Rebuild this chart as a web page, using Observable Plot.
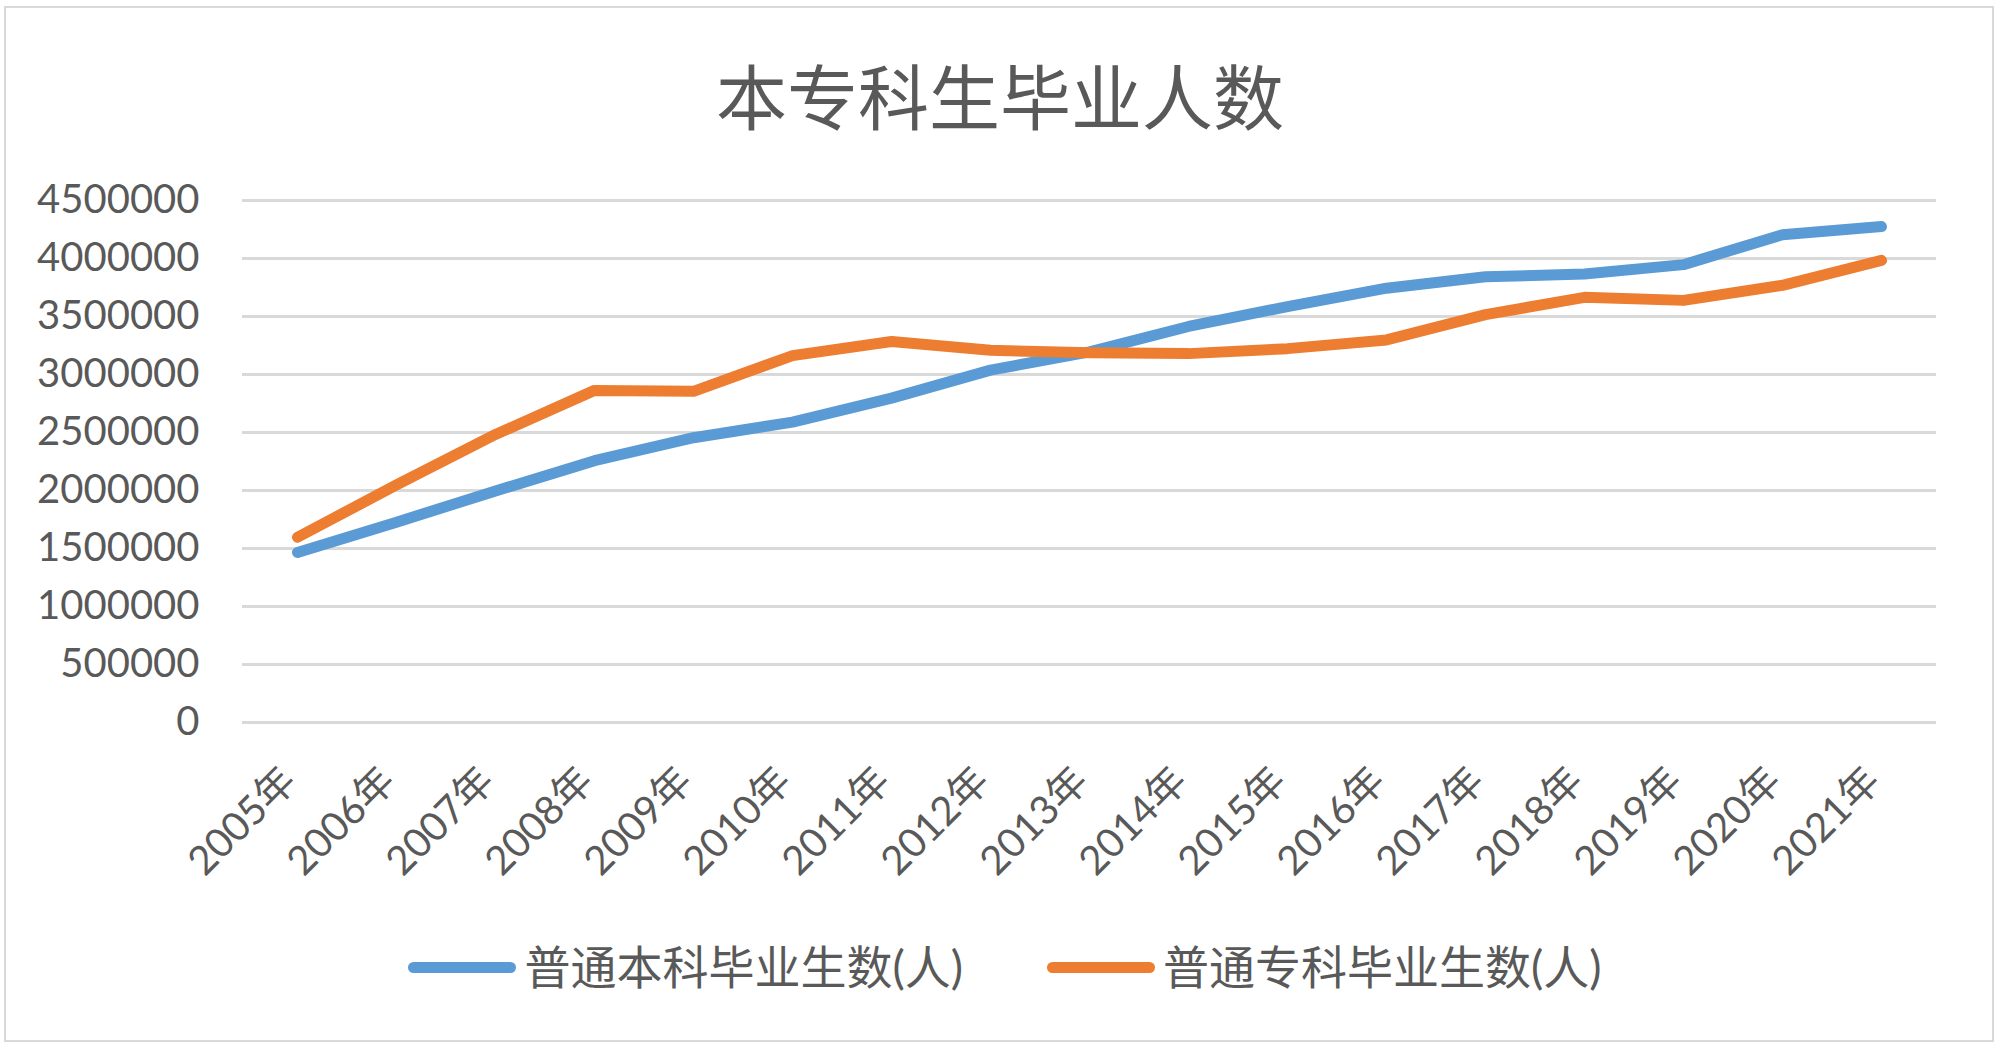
<!DOCTYPE html>
<html><head><meta charset="utf-8">
<script src="https://cdn.jsdelivr.net/npm/d3@7"></script>
<script src="https://cdn.jsdelivr.net/npm/@observablehq/plot@0.6"></script>
<style>
body{margin:0;background:#fff;}
#wrap{position:relative;width:2000px;height:1047px;overflow:hidden;font-family:Lato,"Noto Sans CJK SC",sans-serif;color:#595959;background:#fff;}
#frame{position:absolute;left:4px;top:6px;width:1990px;height:1036px;border:2px solid #d9d9d9;box-sizing:border-box;}
#title{position:absolute;left:0;top:50px;width:2000px;text-align:center;font-size:71px;line-height:86px;font-family:"Noto Sans CJK SC",sans-serif;color:#595959;}
#chart{position:absolute;left:0;top:160px;}
#legend{position:absolute;left:0;top:940px;width:2010px;display:flex;justify-content:center;align-items:center;gap:84px;font-size:46px;line-height:54px;}
.item{display:flex;align-items:center;}
.sw{width:108px;height:11px;border-radius:6px;margin-right:8px;}
</style></head>
<body>
<div id="wrap">
  <div id="frame"></div>
  <div id="title"></div>
  <div id="chart"></div>
  <div id="legend"></div>
</div>
<script>
const titleText = "本专科生毕业人数";
const years = ["2005年","2006年","2007年","2008年","2009年","2010年","2011年","2012年","2013年","2014年","2015年","2016年","2017年","2018年","2019年","2020年","2021年"];
const undergrad = [1466000,1727000,1996000,2257000,2455000,2590000,2796000,3038000,3195000,3414000,3586000,3744000,3842000,3867000,3947000,4205000,4275000];
const junior = [1597000,2048000,2483000,2863000,2855000,3163000,3285000,3209000,3187000,3180000,3223000,3298000,3516000,3665000,3639000,3769000,3984000];
const seriesNames = ["普通本科毕业生数(人)","普通专科毕业生数(人)"];
const seriesColors = ["#5B9BD5","#ED7D31"];
const yTicks = [0,500000,1000000,1500000,2000000,2500000,3000000,3500000,4000000,4500000];

const data = [];
years.forEach((y,i)=>{
  data.push({year:y, value:undergrad[i], series:seriesNames[0]});
});
years.forEach((y,i)=>{
  data.push({year:y, value:junior[i], series:seriesNames[1]});
});

document.getElementById("title").textContent = titleText;

const plot = Plot.plot({
  width: 2000,
  height: 740,
  marginLeft: 242,
  marginRight: 64,
  marginTop: 40,
  marginBottom: 178,
  x: {type: "point", domain: years, padding: 0.5, label: null},
  y: {domain: [0, 4500000], label: null},
  color: {domain: seriesNames, range: seriesColors},
  style: {fontSize: "40px", fontFamily: "Lato, 'Noto Sans CJK SC', sans-serif", color: "#595959", background: "transparent"},
  marks: [
    Plot.gridY(yTicks, {stroke: "#d9d9d9", strokeOpacity: 1, strokeWidth: 3}),
    Plot.axisY(yTicks, {tickSize: 0, tickPadding: 43, tickFormat: d => String(d), fontSize: 40}),
    Plot.axisX({tickRotate: -45, tickSize: 0, tickPadding: 52, dx: -8, fontSize: 40}),
    Plot.line(data, {x: "year", y: "value", z: "series", stroke: "series", strokeWidth: 11, strokeLinecap: "round", strokeLinejoin: "round"})
  ]
});
document.getElementById("chart").appendChild(plot);

const legend = document.getElementById("legend");
seriesNames.forEach((name,i)=>{
  const item = document.createElement("div");
  item.className = "item";
  const sw = document.createElement("div");
  sw.className = "sw";
  sw.style.background = seriesColors[i];
  const t = document.createElement("span");
  t.textContent = name;
  item.appendChild(sw);
  item.appendChild(t);
  legend.appendChild(item);
});
</script>
</body></html>
